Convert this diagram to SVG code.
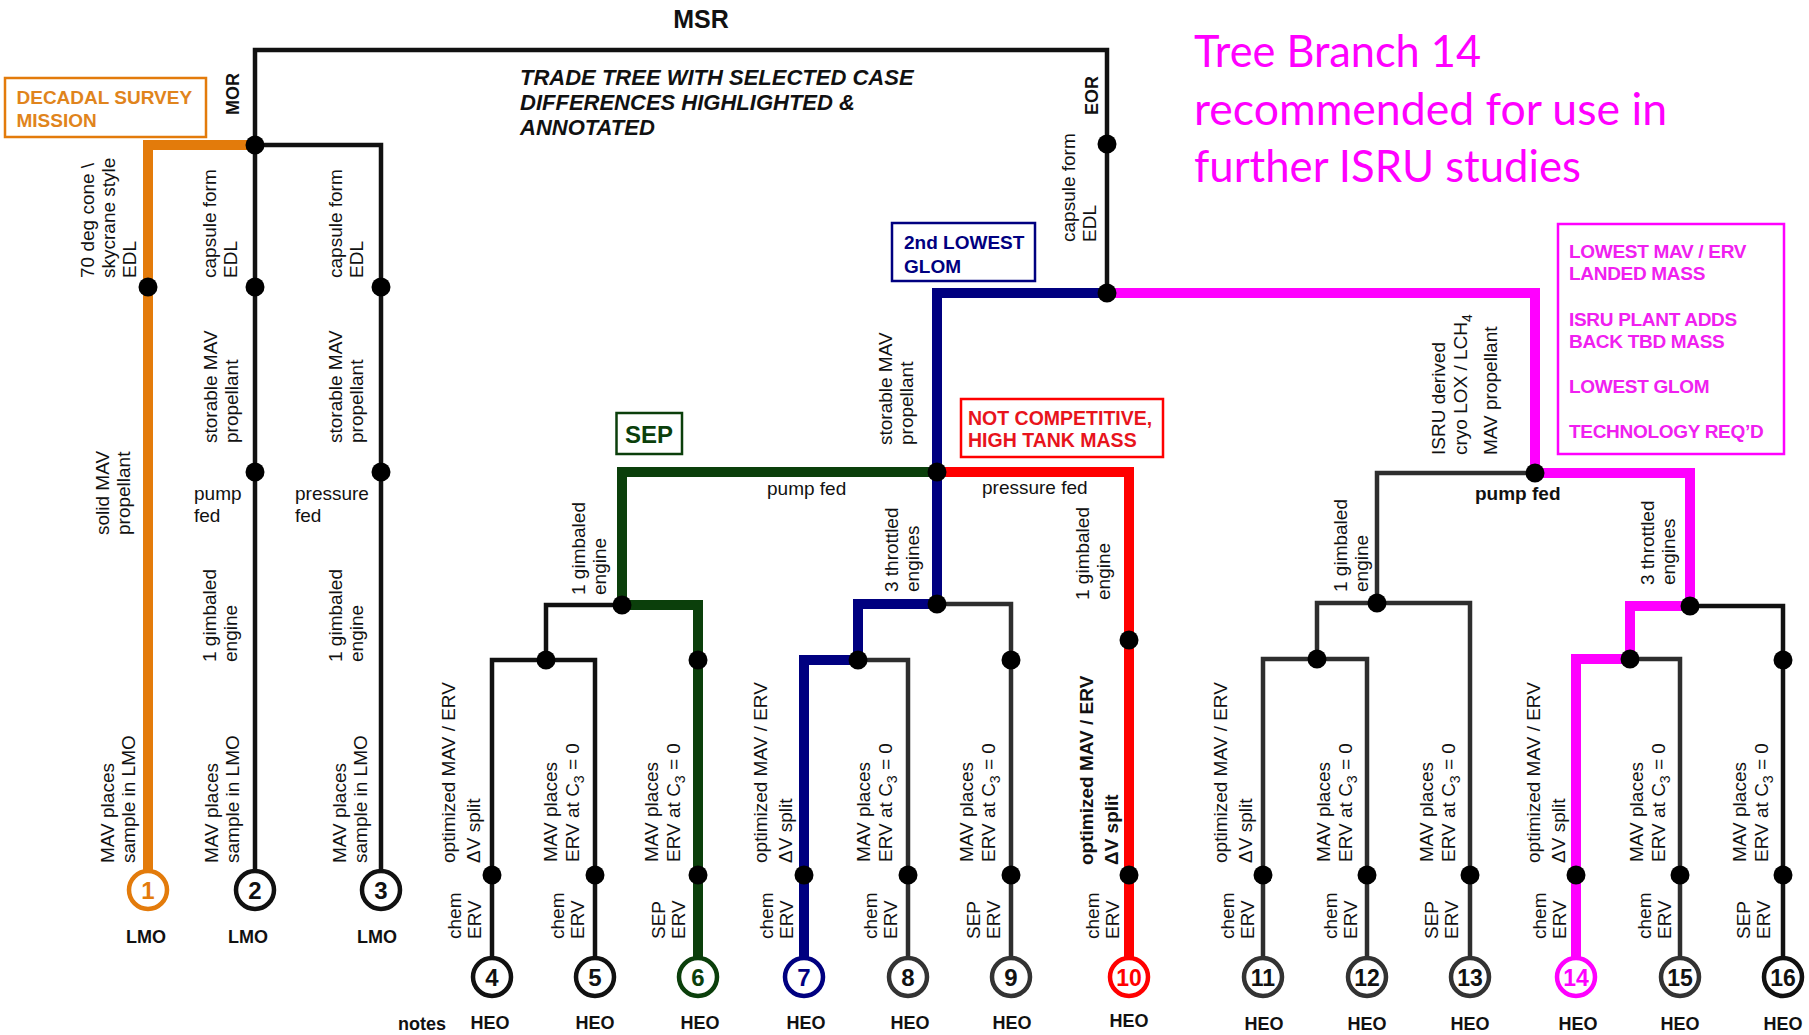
<svg xmlns="http://www.w3.org/2000/svg" width="1809" height="1035" viewBox="0 0 1809 1035">
<style>
.ln{fill:none;stroke:#111;stroke-width:4.5;stroke-linejoin:miter;stroke-linecap:square}
.g2{stroke:#2e2e2e}
.hl{fill:none;stroke-width:10;stroke-linejoin:miter;stroke-linecap:square}
.or{stroke:#E37B0B}.nv{stroke:#000080}.gr{stroke:#0B3F0B}.rd{stroke:#FF0000}.mg{stroke:#FF00FF}
.dot{fill:#000}
.lf{fill:#fff;stroke:#111;stroke-width:4.5}
.t{font-family:"Liberation Sans",Arial,sans-serif;font-size:19px;fill:#111}
.b{font-weight:bold}
.num{font-family:"Liberation Sans",Arial,sans-serif;font-size:24px;font-weight:bold;text-anchor:middle;fill:#111}
.heo{font-family:"Liberation Sans",Arial,sans-serif;font-size:18px;font-weight:bold;text-anchor:middle;fill:#111}
.box{fill:none;stroke-width:2.5}
.sub{font-size:14px}
</style>
<g id="connectors">
<path class="ln" d="M255,145 V50 H1107 V293"/>
<path class="ln" d="M255,145 V890"/>
<path class="ln" d="M255,145 H381 V890"/>
<path class="ln" d="M622,605 H546 V660"/>
<path class="ln" d="M492,977 V660 H595 V977"/>
<path class="ln g2" d="M937,604 H1011 V977"/>
<path class="ln g2" d="M858,660 H908 V977"/>
<path class="ln g2" d="M1535,473 H1377 V603"/>
<path class="ln g2" d="M1317,659 V603 H1470 V977"/>
<path class="ln g2" d="M1263,977 V659 H1367 V977"/>
<path class="ln" d="M1690,606 H1783 V977"/>
<path class="ln g2" d="M1630,659 H1680 V977"/>
<path class="hl or" d="M148,890 V145 H252"/>
<path class="hl gr" d="M937,472 H622 V605 H698 V977"/>
<path class="hl rd" d="M937,472 H1129 V977"/>
<path class="hl nv" d="M1107,293 H937 V604 H858 V660 H804 V977"/>
<path class="hl mg" d="M1107,293 H1535 V473 H1690 V606 H1630 V659 H1576 V977"/>
</g>
<g id="junctions" class="dot">
<circle cx="255" cy="145" r="9.5"/>
<circle cx="148" cy="287" r="9.5"/><circle cx="255" cy="287" r="9.5"/><circle cx="381" cy="287" r="9.5"/>
<circle cx="255" cy="472" r="9.5"/><circle cx="381" cy="472" r="9.5"/>
<circle cx="1107" cy="144" r="9.5"/><circle cx="1107" cy="293" r="9.5"/>
<circle cx="937" cy="472" r="9.5"/><circle cx="622" cy="605" r="9.5"/><circle cx="937" cy="604" r="9.5"/>
<circle cx="546" cy="660" r="9.5"/><circle cx="698" cy="660" r="9.5"/><circle cx="858" cy="660" r="9.5"/><circle cx="1011" cy="660" r="9.5"/>
<circle cx="1129" cy="640" r="9.5"/>
<circle cx="1535" cy="473" r="9.5"/><circle cx="1377" cy="603" r="9.5"/><circle cx="1317" cy="659" r="9.5"/>
<circle cx="1690" cy="606" r="9.5"/><circle cx="1630" cy="659" r="9.5"/><circle cx="1783" cy="660" r="9.5"/>
<circle cx="492" cy="875" r="9.5"/><circle cx="595" cy="875" r="9.5"/><circle cx="698" cy="875" r="9.5"/><circle cx="804" cy="875" r="9.5"/>
<circle cx="908" cy="875" r="9.5"/><circle cx="1011" cy="875" r="9.5"/><circle cx="1129" cy="875" r="9.5"/><circle cx="1263" cy="875" r="9.5"/>
<circle cx="1367" cy="875" r="9.5"/><circle cx="1470" cy="875" r="9.5"/><circle cx="1576" cy="875" r="9.5"/><circle cx="1680" cy="875" r="9.5"/>
<circle cx="1783" cy="875" r="9.5"/>
</g>
<g id="title">
<text class="t b" x="701" y="28" text-anchor="middle" style="font-size:25px">MSR</text>
<text class="t b" transform="translate(239,115) rotate(-90)" style="font-size:18px">MOR</text>
<text class="t b" transform="translate(1098,115) rotate(-90)" style="font-size:18px">EOR</text>
<text class="t b" font-style="italic" style="font-size:22px"><tspan x="520" y="85">TRADE TREE WITH SELECTED CASE</tspan><tspan x="520" y="110">DIFFERENCES HIGHLIGHTED &amp;</tspan><tspan x="520" y="135">ANNOTATED</tspan></text>
<text font-family="Lato,'Open Sans',sans-serif" font-size="44" fill="#FF00FF"><tspan x="1194" y="67" textLength="287" lengthAdjust="spacingAndGlyphs">Tree Branch 14</tspan><tspan x="1194" y="125" textLength="473" lengthAdjust="spacingAndGlyphs">recommended for use in</tspan><tspan x="1194" y="182" textLength="387" lengthAdjust="spacingAndGlyphs">further ISRU studies</tspan></text>
</g>
<g id="note-decadal">
<rect class="box or" x="5" y="78" width="201" height="59"/>
<text class="t b" style="fill:#E0841C"><tspan x="16.5" y="104">DECADAL SURVEY</tspan><tspan x="16.5" y="127">MISSION</tspan></text>
</g>
<g id="note-2nd-lowest">
<rect class="box nv" x="892" y="223" width="143" height="58"/>
<text class="t b" style="fill:#000080"><tspan x="904" y="249">2nd LOWEST</tspan><tspan x="904" y="273">GLOM</tspan></text>
</g>
<g id="note-sep">
<rect class="box gr" x="616.5" y="413" width="65.5" height="41"/>
<text class="t b" x="649" y="443" text-anchor="middle" style="fill:#0B3F0B;font-size:24px">SEP</text>
</g>
<g id="note-not-competitive">
<rect class="box rd" x="961" y="399" width="202" height="58"/>
<text class="t b" style="fill:#E8141C;font-size:19.5px"><tspan x="968" y="425">NOT COMPETITIVE,</tspan><tspan x="968" y="447">HIGH TANK MASS</tspan></text>
</g>
<g id="note-lowest">
<rect class="box mg" x="1558" y="224" width="226" height="230"/>
<text class="t b" letter-spacing="-0.3" style="fill:#F020F0"><tspan x="1569" y="258">LOWEST MAV / ERV</tspan><tspan x="1569" y="280">LANDED MASS</tspan><tspan x="1569" y="326">ISRU PLANT ADDS</tspan><tspan x="1569" y="348">BACK TBD MASS</tspan><tspan x="1569" y="393">LOWEST GLOM</tspan><tspan x="1569" y="438">TECHNOLOGY REQ’D</tspan></text>
</g>
<g id="branch-labels" class="t">
<text transform="translate(93.5,278) rotate(-90)"><tspan x="0" y="0">70 deg cone \</tspan><tspan x="0" y="21">skycrane style</tspan><tspan x="0" y="42">EDL</tspan></text>
<text transform="translate(216,278) rotate(-90)"><tspan x="0" y="0">capsule form</tspan><tspan x="0" y="21">EDL</tspan></text>
<text transform="translate(342,278) rotate(-90)"><tspan x="0" y="0">capsule form</tspan><tspan x="0" y="21">EDL</tspan></text>
<text transform="translate(1075,242) rotate(-90)"><tspan x="0" y="0">capsule form</tspan><tspan x="0" y="21">EDL</tspan></text>
<text transform="translate(109,535) rotate(-90)"><tspan x="0" y="0">solid MAV</tspan><tspan x="0" y="21">propellant</tspan></text>
<text transform="translate(217,443) rotate(-90)"><tspan x="0" y="0">storable MAV</tspan><tspan x="0" y="21">propellant</tspan></text>
<text transform="translate(342,443) rotate(-90)"><tspan x="0" y="0">storable MAV</tspan><tspan x="0" y="21">propellant</tspan></text>
<text transform="translate(892,445) rotate(-90)"><tspan x="0" y="0">storable MAV</tspan><tspan x="0" y="21">propellant</tspan></text>
<text transform="translate(1445,455) rotate(-90)"><tspan x="0" y="0">ISRU derived</tspan><tspan x="0" y="22">cryo LOX / LCH</tspan><tspan class="sub" dy="5">4</tspan><tspan x="0" y="52">MAV propellant</tspan></text>
<text><tspan x="194" y="500">pump</tspan><tspan x="194" y="522">fed</tspan></text>
<text><tspan x="295" y="500">pressure</tspan><tspan x="295" y="522">fed</tspan></text>
<text x="767" y="495">pump fed</text>
<text x="982" y="494">pressure fed</text>
<text class="b" x="1475" y="500">pump fed</text>
<text transform="translate(216,662) rotate(-90)"><tspan x="0" y="0">1 gimbaled</tspan><tspan x="0" y="21">engine</tspan></text>
<text transform="translate(342,662) rotate(-90)"><tspan x="0" y="0">1 gimbaled</tspan><tspan x="0" y="21">engine</tspan></text>
<text transform="translate(585,595) rotate(-90)"><tspan x="0" y="0">1 gimbaled</tspan><tspan x="0" y="21">engine</tspan></text>
<text transform="translate(898,592) rotate(-90)"><tspan x="0" y="0">3 throttled</tspan><tspan x="0" y="21">engines</tspan></text>
<text transform="translate(1089,600) rotate(-90)"><tspan x="0" y="0">1 gimbaled</tspan><tspan x="0" y="21">engine</tspan></text>
<text transform="translate(1347,592) rotate(-90)"><tspan x="0" y="0">1 gimbaled</tspan><tspan x="0" y="21">engine</tspan></text>
<text transform="translate(1654,585) rotate(-90)"><tspan x="0" y="0">3 throttled</tspan><tspan x="0" y="21">engines</tspan></text>
<text transform="translate(113.5,863) rotate(-90)"><tspan x="0" y="0">MAV places</tspan><tspan x="0" y="21">sample in LMO</tspan></text>
<text transform="translate(218,863) rotate(-90)"><tspan x="0" y="0">MAV places</tspan><tspan x="0" y="21">sample in LMO</tspan></text>
<text transform="translate(346,863) rotate(-90)"><tspan x="0" y="0">MAV places</tspan><tspan x="0" y="21">sample in LMO</tspan></text>
<text transform="translate(455,863) rotate(-90)"><tspan x="0" y="0">optimized MAV / ERV</tspan><tspan x="0" y="25">ΔV split</tspan></text>
<text transform="translate(767,863) rotate(-90)"><tspan x="0" y="0">optimized MAV / ERV</tspan><tspan x="0" y="25">ΔV split</tspan></text>
<text class="b" transform="translate(1093,865) rotate(-90)"><tspan x="0" y="0">optimized MAV / ERV</tspan><tspan x="0" y="25">ΔV split</tspan></text>
<text transform="translate(1227,863) rotate(-90)"><tspan x="0" y="0">optimized MAV / ERV</tspan><tspan x="0" y="25">ΔV split</tspan></text>
<text transform="translate(1540,863) rotate(-90)"><tspan x="0" y="0">optimized MAV / ERV</tspan><tspan x="0" y="25">ΔV split</tspan></text>
<text transform="translate(557,862) rotate(-90)"><tspan x="0" y="0">MAV places</tspan><tspan x="0" y="22">ERV at C</tspan><tspan class="sub" dy="5">3</tspan><tspan dy="-5"> = 0</tspan></text>
<text transform="translate(658,862) rotate(-90)"><tspan x="0" y="0">MAV places</tspan><tspan x="0" y="22">ERV at C</tspan><tspan class="sub" dy="5">3</tspan><tspan dy="-5"> = 0</tspan></text>
<text transform="translate(870,862) rotate(-90)"><tspan x="0" y="0">MAV places</tspan><tspan x="0" y="22">ERV at C</tspan><tspan class="sub" dy="5">3</tspan><tspan dy="-5"> = 0</tspan></text>
<text transform="translate(973,862) rotate(-90)"><tspan x="0" y="0">MAV places</tspan><tspan x="0" y="22">ERV at C</tspan><tspan class="sub" dy="5">3</tspan><tspan dy="-5"> = 0</tspan></text>
<text transform="translate(1330,862) rotate(-90)"><tspan x="0" y="0">MAV places</tspan><tspan x="0" y="22">ERV at C</tspan><tspan class="sub" dy="5">3</tspan><tspan dy="-5"> = 0</tspan></text>
<text transform="translate(1433,862) rotate(-90)"><tspan x="0" y="0">MAV places</tspan><tspan x="0" y="22">ERV at C</tspan><tspan class="sub" dy="5">3</tspan><tspan dy="-5"> = 0</tspan></text>
<text transform="translate(1643,862) rotate(-90)"><tspan x="0" y="0">MAV places</tspan><tspan x="0" y="22">ERV at C</tspan><tspan class="sub" dy="5">3</tspan><tspan dy="-5"> = 0</tspan></text>
<text transform="translate(1746,862) rotate(-90)"><tspan x="0" y="0">MAV places</tspan><tspan x="0" y="22">ERV at C</tspan><tspan class="sub" dy="5">3</tspan><tspan dy="-5"> = 0</tspan></text>
<text transform="translate(461,939) rotate(-90)"><tspan x="0" y="0">chem</tspan><tspan x="0" y="20">ERV</tspan></text>
<text transform="translate(564,939) rotate(-90)"><tspan x="0" y="0">chem</tspan><tspan x="0" y="20">ERV</tspan></text>
<text transform="translate(665,939) rotate(-90)"><tspan x="0" y="0">SEP</tspan><tspan x="0" y="20">ERV</tspan></text>
<text transform="translate(773,939) rotate(-90)"><tspan x="0" y="0">chem</tspan><tspan x="0" y="20">ERV</tspan></text>
<text transform="translate(877,939) rotate(-90)"><tspan x="0" y="0">chem</tspan><tspan x="0" y="20">ERV</tspan></text>
<text transform="translate(980,939) rotate(-90)"><tspan x="0" y="0">SEP</tspan><tspan x="0" y="20">ERV</tspan></text>
<text transform="translate(1099,939) rotate(-90)"><tspan x="0" y="0">chem</tspan><tspan x="0" y="20">ERV</tspan></text>
<text transform="translate(1234,939) rotate(-90)"><tspan x="0" y="0">chem</tspan><tspan x="0" y="20">ERV</tspan></text>
<text transform="translate(1337,939) rotate(-90)"><tspan x="0" y="0">chem</tspan><tspan x="0" y="20">ERV</tspan></text>
<text transform="translate(1438,939) rotate(-90)"><tspan x="0" y="0">SEP</tspan><tspan x="0" y="20">ERV</tspan></text>
<text transform="translate(1546,939) rotate(-90)"><tspan x="0" y="0">chem</tspan><tspan x="0" y="20">ERV</tspan></text>
<text transform="translate(1651,939) rotate(-90)"><tspan x="0" y="0">chem</tspan><tspan x="0" y="20">ERV</tspan></text>
<text transform="translate(1750,939) rotate(-90)"><tspan x="0" y="0">SEP</tspan><tspan x="0" y="20">ERV</tspan></text>
<text class="b" x="422" y="1030" text-anchor="middle" style="font-size:18px">notes</text>
</g>
<g id="leaf-1"><circle class="lf" cx="148" cy="890" r="19" style="stroke:#E37B0B"/><text class="num" x="148" y="898.5" style="fill:#E37B0B">1</text><text class="heo" x="146" y="943">LMO</text></g>
<g id="leaf-2"><circle class="lf" cx="255" cy="890" r="19"/><text class="num" x="255" y="898.5">2</text><text class="heo" x="248" y="943">LMO</text></g>
<g id="leaf-3"><circle class="lf" cx="381" cy="890" r="19"/><text class="num" x="381" y="898.5">3</text><text class="heo" x="377" y="943">LMO</text></g>
<g id="leaf-4"><circle class="lf" cx="492" cy="977" r="19"/><text class="num" x="492" y="985.5">4</text><text class="heo" x="490" y="1029">HEO</text></g>
<g id="leaf-5"><circle class="lf" cx="595" cy="977" r="19"/><text class="num" x="595" y="985.5">5</text><text class="heo" x="595" y="1029">HEO</text></g>
<g id="leaf-6"><circle class="lf" cx="698" cy="977" r="19" style="stroke:#0B3F0B"/><text class="num" x="698" y="985.5" style="fill:#0B3F0B">6</text><text class="heo" x="700" y="1029">HEO</text></g>
<g id="leaf-7"><circle class="lf" cx="804" cy="977" r="19" style="stroke:#000080"/><text class="num" x="804" y="985.5" style="fill:#000080">7</text><text class="heo" x="806" y="1029">HEO</text></g>
<g id="leaf-8"><circle class="lf" cx="908" cy="977" r="19" style="stroke:#333"/><text class="num" x="908" y="985.5">8</text><text class="heo" x="910" y="1029">HEO</text></g>
<g id="leaf-9"><circle class="lf" cx="1011" cy="977" r="19" style="stroke:#333"/><text class="num" x="1011" y="985.5">9</text><text class="heo" x="1012" y="1029">HEO</text></g>
<g id="leaf-10"><circle class="lf" cx="1129" cy="977" r="19" style="stroke:#FF0000"/><text class="num" x="1129" y="985.5" style="fill:#FF0000;font-size:23px">10</text><text class="heo" x="1129" y="1027">HEO</text></g>
<g id="leaf-11"><circle class="lf" cx="1263" cy="977" r="19" style="stroke:#333"/><text class="num" x="1263" y="985.5" style="font-size:23px">11</text><text class="heo" x="1264" y="1030">HEO</text></g>
<g id="leaf-12"><circle class="lf" cx="1367" cy="977" r="19" style="stroke:#333"/><text class="num" x="1367" y="985.5" style="font-size:23px">12</text><text class="heo" x="1367" y="1030">HEO</text></g>
<g id="leaf-13"><circle class="lf" cx="1470" cy="977" r="19" style="stroke:#333"/><text class="num" x="1470" y="985.5" style="font-size:23px">13</text><text class="heo" x="1470" y="1030">HEO</text></g>
<g id="leaf-14"><circle class="lf" cx="1576" cy="977" r="19" style="stroke:#FF00FF"/><text class="num" x="1576" y="985.5" style="fill:#FF00FF;font-size:23px">14</text><text class="heo" x="1578" y="1030">HEO</text></g>
<g id="leaf-15"><circle class="lf" cx="1680" cy="977" r="19" style="stroke:#333"/><text class="num" x="1680" y="985.5" style="font-size:23px">15</text><text class="heo" x="1680" y="1030">HEO</text></g>
<g id="leaf-16"><circle class="lf" cx="1783" cy="977" r="19"/><text class="num" x="1783" y="985.5" style="font-size:23px">16</text><text class="heo" x="1783" y="1030">HEO</text></g>
</svg>
